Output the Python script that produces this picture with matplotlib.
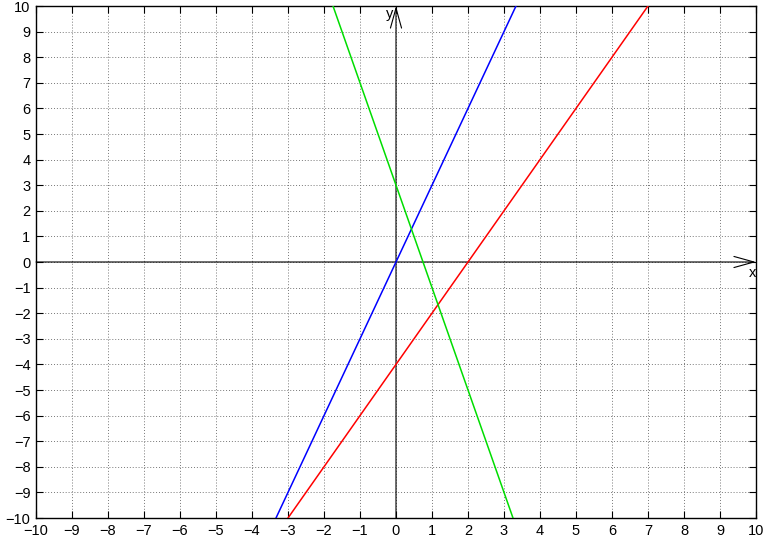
import matplotlib
matplotlib.use("Agg")
import matplotlib.pyplot as plt
import numpy as np

plt.rcParams['font.family'] = ['Liberation Sans', 'DejaVu Sans']

# lines y = m*x + b
slopes = [3, 2, -4]
intercepts = [0, -4, 3]
colors = ['#0000ff', '#ff0000', '#00dd00']
ticks = list(range(-10, 11))

fig = plt.figure(figsize=(7.66, 5.42), dpi=100)
ax = fig.add_axes([36 / 766, 24 / 542, 720 / 766, 512 / 542])

x = np.linspace(-10, 10, 401)
for m, b, c in zip(slopes, intercepts, colors):
    ax.plot(x, m * x + b, color=c, lw=1.1, zorder=3)

ax.set_xlim(-10, 10)
ax.set_ylim(-10, 10)
ax.set_xticks(ticks)
ax.set_yticks(ticks)
ax.set_xticklabels([str(t).replace('-', '\u2212') for t in ticks])
ax.set_yticklabels([str(t).replace('-', '\u2212') for t in ticks])
ax.tick_params(direction='in', length=5, width=0.8, labelsize=10.5,
               top=True, right=True, pad=4)
ax.grid(True, color='#777777', linestyle=(0, (1, 2)), linewidth=0.7)
for s in ax.spines.values():
    s.set_linewidth(1.0)

# axes with arrows
arrow = '->,head_length=0.9,head_width=0.25'
ax.annotate('', xy=(10, 0), xytext=(-10, 0),
            arrowprops=dict(arrowstyle=arrow, color='black', lw=0.8,
                            shrinkA=0, shrinkB=0, mutation_scale=16), zorder=2)
ax.annotate('', xy=(0, 10), xytext=(0, -10),
            arrowprops=dict(arrowstyle=arrow, color='black', lw=0.8,
                            shrinkA=0, shrinkB=0, mutation_scale=16), zorder=2)
ax.text(9.8, -0.15, 'x', fontsize=10.5, ha='left', va='top')
ax.text(-0.08, 9.95, 'y', fontsize=10.5, ha='right', va='top')

fig.savefig('out.png', dpi=100)
